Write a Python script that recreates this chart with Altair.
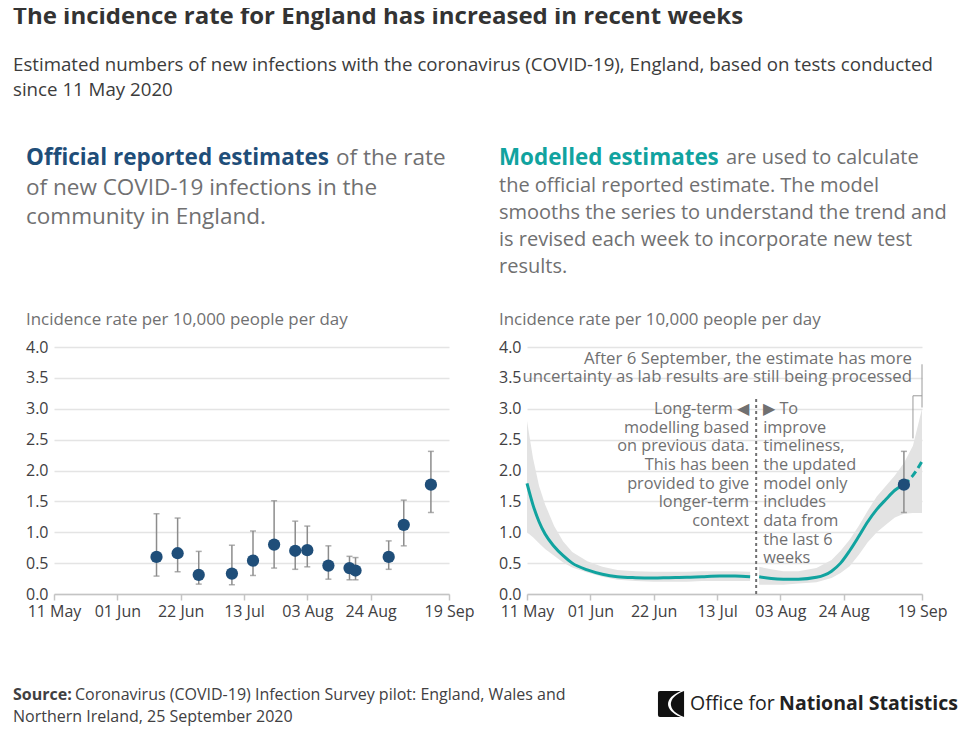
import altair as alt
import pandas as pd

# ---------------- data ----------------
official_dates = ["2020-06-14", "2020-06-21", "2020-06-28", "2020-07-09", "2020-07-16", "2020-07-23",
                  "2020-07-30", "2020-08-03", "2020-08-10", "2020-08-17", "2020-08-19", "2020-08-30",
                  "2020-09-04", "2020-09-13"]
official_rate = [0.60, 0.66, 0.31, 0.33, 0.54, 0.80, 0.70, 0.71, 0.46, 0.42, 0.38, 0.60, 1.12, 1.77]
official_lower = [0.29, 0.36, 0.16, 0.15, 0.30, 0.42, 0.40, 0.44, 0.24, 0.23, 0.23, 0.40, 0.78, 1.32]
official_upper = [1.30, 1.23, 0.69, 0.79, 1.02, 1.51, 1.18, 1.10, 0.78, 0.61, 0.59, 0.86, 1.52, 2.31]

model_long_dates = ["2020-05-11", "2020-05-13", "2020-05-15", "2020-05-17", "2020-05-20", "2020-05-23",
                    "2020-05-26", "2020-05-31", "2020-06-05", "2020-06-10", "2020-06-16", "2020-06-22",
                    "2020-06-27", "2020-07-03", "2020-07-08", "2020-07-14", "2020-07-19", "2020-07-24"]
model_long_rate = [1.79, 1.44, 1.17, 0.97, 0.77, 0.62, 0.50, 0.39, 0.32, 0.28, 0.265, 0.26,
                   0.265, 0.27, 0.28, 0.29, 0.29, 0.28]
model_long_lower = [1.00, 0.92, 0.82, 0.73, 0.62, 0.51, 0.43, 0.35, 0.28, 0.23, 0.21, 0.20,
                    0.20, 0.20, 0.21, 0.21, 0.21, 0.21]
model_long_upper = [2.80, 2.20, 1.75, 1.45, 1.10, 0.85, 0.68, 0.53, 0.44, 0.39, 0.37, 0.36,
                    0.36, 0.36, 0.37, 0.37, 0.37, 0.36]

model_recent_dates = ["2020-07-27", "2020-07-31", "2020-08-04", "2020-08-09", "2020-08-15", "2020-08-20",
                      "2020-08-23", "2020-08-26", "2020-08-29", "2020-09-01", "2020-09-04", "2020-09-07",
                      "2020-09-10", "2020-09-13", "2020-09-16", "2020-09-19"]
model_recent_rate = [0.28, 0.25, 0.24, 0.24, 0.27, 0.37, 0.50, 0.70, 0.93, 1.17, 1.37, 1.53,
                     1.68, 1.77, 1.92, 2.15]
model_recent_lower = [0.15, 0.15, 0.15, 0.17, 0.19, 0.26, 0.34, 0.45, 0.63, 0.84, 1.00, 1.12,
                      1.24, 1.30, 1.31, 1.31]
model_recent_upper = [0.44, 0.40, 0.37, 0.37, 0.42, 0.55, 0.70, 0.88, 1.10, 1.35, 1.58, 1.75,
                      1.92, 2.12, 2.40, 3.00]
provisional_from = "2020-09-13"   # dashed line after the latest estimate

latest_date = ["2020-09-13"]
latest_rate = [1.77]
latest_lower = [1.32]
latest_upper = [2.31]

divider_date = ["2020-07-26"]
divider_top = [3.2]

bracket_x = ["2020-09-19", "2020-09-16", "2020-09-16"]
bracket_x2 = ["2020-09-19", "2020-09-16", "2020-09-19"]
bracket_y = [3.02, 2.52, 3.21]
bracket_y2 = [3.72, 3.21, 3.21]

x_tick_md = [(5, 11), (6, 1), (6, 22), (7, 13), (8, 3), (8, 24), (9, 19)]
y_ticks = [0.0, 0.5, 1.0, 1.5, 2.0, 2.5, 3.0, 3.5, 4.0]

# ---------------- tables ----------------
official = pd.DataFrame({"date": official_dates, "rate": official_rate,
                         "lower": official_lower, "upper": official_upper})
long_df = pd.DataFrame({"date": model_long_dates, "rate": model_long_rate,
                        "lower": model_long_lower, "upper": model_long_upper})
recent_df = pd.DataFrame({"date": model_recent_dates, "rate": model_recent_rate,
                          "lower": model_recent_lower, "upper": model_recent_upper})
recent_solid = recent_df[recent_df["date"] <= provisional_from]
recent_dash = recent_df[recent_df["date"] >= provisional_from]
latest = pd.DataFrame({"date": latest_date, "rate": latest_rate,
                       "lower": latest_lower, "upper": latest_upper})
divider = pd.DataFrame({"date": divider_date, "top": divider_top, "bottom": [0.0]})
bracket = pd.DataFrame({"date": bracket_x, "date2": bracket_x2, "y": bracket_y, "y2": bracket_y2})
one = pd.DataFrame({"a": [0]})

# ---------------- styling ----------------
FONT = "Open Sans"
BLUE = "#1f4e79"
TEAL = "#11a39f"
GREY = "#707071"
DARK = "#414042"
W, H = 395, 247


def dt(m, d):
    return alt.DateTime(year=2020, month=m, date=d, utc=True)


x_scale = alt.Scale(type="utc", domain=[dt(5, 11), dt(9, 19)], nice=False)
x_axis = alt.Axis(values=[dt(m, d) for m, d in x_tick_md], format="%d %b", title=None, grid=False,
                  labelOverlap=False, labelFlush=False, tickSize=6, labelPadding=3)
y_scale = alt.Scale(domain=[0, 4], nice=False)
y_axis = alt.Axis(values=y_ticks, format=".1f", title=None, domain=False, ticks=False, labelPadding=6)


def X(field="date"):
    return alt.X(f"{field}:T", scale=x_scale, axis=x_axis)


def Y(field):
    return alt.Y(f"{field}:Q", scale=y_scale, axis=y_axis)


def txt(s, x, y, size=20, color=GREY, weight="normal", align="left"):
    return alt.Chart(one).mark_text(text=s, font=FONT, fontSize=size, fontWeight=weight, color=color,
                                    align=align, baseline="middle").encode(x=alt.value(x), y=alt.value(y))


# ---------------- left panel (coords relative to its plot origin) ----------------
anchor = alt.Chart(one).mark_rect(opacity=0).encode(
    x=alt.value(-46), x2=alt.value(906), y=alt.value(-343), y2=alt.value(392))

texts = [
    txt("The incidence rate for England has increased in recent weeks", -41, -330.5, 24, "#333333", "bold"),
    txt("Estimated numbers of new infections with the coronavirus (COVID-19), England, based on tests conducted",
        -41, -282, 18.7, "#3c3c3c"),
    txt("since 11 May 2020", -41, -257, 18.7, "#3c3c3c"),
    txt("Official reported estimates", -28, -189, 22.5, BLUE, "bold"),
    txt("of the rate", 282, -189, 22.5),
    txt("of new COVID-19 infections in the", -28, -159, 22.5),
    txt("community in England.", -28, -130, 22.5),
    txt("Modelled estimates", 445, -189, 22.4, TEAL, "bold"),
    txt("are used to calculate", 672, -189, 20),
    txt("the official reported estimate. The model", 445, -161, 20),
    txt("smooths the series to understand the trend and", 445, -134, 20),
    txt("is revised each week to incorporate new test", 445, -107, 20),
    txt("results.", 445, -80, 20),
    txt("Incidence rate per 10,000 people per day", -28, -27, 16.9),
    txt("Incidence rate per 10,000 people per day", 445, -27, 16.9),
    txt("Source:", -41, 348, 16, DARK, "bold"),
    txt("Coronavirus (COVID-19) Infection Survey pilot: England, Wales and", 21, 348, 16, DARK),
    txt("Northern Ireland, 25 September 2020", -41, 370, 16, DARK),
    txt("Office for", 636, 357, 19.5, "#222222"),
    txt("National Statistics", 904, 357, 19.5, "#222222", "bold", "right"),
]

logo_a = alt.Chart(one).mark_point(
    shape="M -1 -0.85 Q -1 -1 -0.85 -1 L 0.75 -1 C -0.55 -0.45 -0.55 0.45 0.75 1 L -0.85 1 Q -1 1 -1 0.85 Z",
    filled=True, color="#111111", opacity=1, size=680).encode(x=alt.value(617), y=alt.value(357))
logo_b = alt.Chart(one).mark_point(
    shape="M 1 -1 L 1 1 C -0.35 0.5 -0.35 -0.5 1 -1 Z",
    filled=True, color="#111111", opacity=1, size=680).encode(x=alt.value(617), y=alt.value(357))

err_rule = alt.Chart(official).mark_rule(color="#8c8c8c", strokeWidth=1.5).encode(
    x=X(), y=Y("lower"), y2="upper")
err_lo = alt.Chart(official).mark_tick(color="#8c8c8c", orient="horizontal", size=6, thickness=1.5).encode(
    x=X(), y=Y("lower"))
err_hi = alt.Chart(official).mark_tick(color="#8c8c8c", orient="horizontal", size=6, thickness=1.5).encode(
    x=X(), y=Y("upper"))
pts = alt.Chart(official).mark_circle(color=BLUE, size=150, opacity=1).encode(x=X(), y=Y("rate"))

left = alt.layer(anchor, *texts, logo_a, logo_b, err_rule, err_lo, err_hi, pts).properties(width=W, height=H)

# ---------------- right panel ----------------
band_a = alt.Chart(long_df).mark_area(color="#e3e3e3", opacity=1).encode(x=X(), y=Y("lower"), y2="upper")
band_b = alt.Chart(recent_df).mark_area(color="#e3e3e3", opacity=1).encode(x=X(), y=Y("lower"), y2="upper")
line_a = alt.Chart(long_df).mark_line(color=TEAL, strokeWidth=3, interpolate="monotone").encode(x=X(), y=Y("rate"))
line_b = alt.Chart(recent_solid).mark_line(color=TEAL, strokeWidth=3, interpolate="monotone").encode(
    x=X(), y=Y("rate"))
line_c = alt.Chart(recent_dash).mark_line(color=TEAL, strokeWidth=3, strokeDash=[7, 4],
                                          interpolate="monotone").encode(x=X(), y=Y("rate"))
div_rule = alt.Chart(divider).mark_rule(color=GREY, strokeWidth=2, strokeDash=[3, 3]).encode(
    x=X(), y=Y("bottom"), y2="top")
brk = alt.Chart(bracket).mark_rule(color="#9a9a9a", strokeWidth=1).encode(
    x=X(), x2="date2:T", y=Y("y"), y2="y2")

ann_left = ["Long-term \u25c0", "modelling based", "on previous data.", "This has been",
            "provided to give", "longer-term", "context"]
ann_right = ["\u25b6 To", "improve", "timeliness,", "the updated", "model only", "includes",
             "data from", "the last 6", "weeks"]
ann_layers = []
for i, s in enumerate(ann_left):
    ann_layers.append(alt.Chart(divider).mark_text(text=s, font=FONT, fontSize=16.3, color=GREY, align="right",
                                                   baseline="middle", dx=-7).encode(
        x=X(), y=alt.value(62 + i * 18.65)))
for i, s in enumerate(ann_right):
    ann_layers.append(alt.Chart(divider).mark_text(text=s, font=FONT, fontSize=16.3, color=GREY, align="left",
                                                   baseline="middle", dx=7).encode(
        x=X(), y=alt.value(62 + i * 18.65)))
ann_top = [
    txt("After 6 September, the estimate has more", 385, 12, 16.8, GREY, "normal", "right"),
    txt("uncertainty as lab results are still being processed", 385, 30, 16.8, GREY, "normal", "right"),
]

l_rule = alt.Chart(latest).mark_rule(color="#8c8c8c", strokeWidth=1.5).encode(x=X(), y=Y("lower"), y2="upper")
l_lo = alt.Chart(latest).mark_tick(color="#8c8c8c", orient="horizontal", size=6, thickness=1.5).encode(
    x=X(), y=Y("lower"))
l_hi = alt.Chart(latest).mark_tick(color="#8c8c8c", orient="horizontal", size=6, thickness=1.5).encode(
    x=X(), y=Y("upper"))
l_pt = alt.Chart(latest).mark_circle(color=BLUE, size=150, opacity=1).encode(x=X(), y=Y("rate"))

right = alt.layer(band_a, band_b, line_a, line_b, line_c, div_rule, brk, *ann_layers, *ann_top,
                  l_rule, l_lo, l_hi, l_pt).properties(width=W, height=H)

chart = alt.hconcat(left, right, spacing=78, bounds="flush",
                    padding={"top": -4, "left": 0, "right": 0, "bottom": 0}).configure_view(
    stroke=None
).configure_axis(
    labelFont=FONT, labelFontSize=16, labelColor=DARK, gridColor="#e4e4e4", gridWidth=1.5,
    domainColor="#c4c4c4", domainWidth=1.5, tickColor="#c4c4c4", tickWidth=1.5
)

chart.save("out.html", embed_options={"renderer": "svg", "actions": False})
